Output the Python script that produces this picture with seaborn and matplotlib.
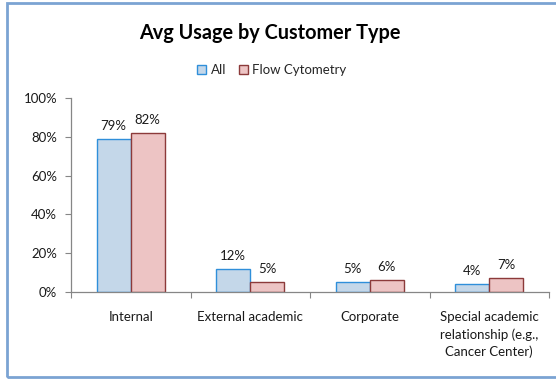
import matplotlib
matplotlib.use("Agg")
import matplotlib.pyplot as plt
import seaborn as sns
import pandas as pd
from matplotlib.patches import Rectangle, Patch
from matplotlib.ticker import FuncFormatter, FixedLocator

categories = ["Internal", "External academic", "Corporate",
              "Special academic\nrelationship (e.g.,\nCancer Center)"]
series_names = ["All", "Flow Cytometry"]
all_values = [79, 12, 5, 4]
flow_values = [82, 5, 6, 7]
y_ticks = [0, 20, 40, 60, 80, 100]

fills = ["#C4D7E9", "#EDC4C4"]
edges = ["#2F8FDA", "#8C3A3A"]

sns.set_theme(style="white")
plt.rcParams['font.family'] = ['Lato', 'DejaVu Sans']

df = pd.DataFrame({
    "cat": categories * 2,
    "series": [series_names[0]] * 4 + [series_names[1]] * 4,
    "val": all_values + flow_values,
})

fs = 9.5
fig = plt.figure(figsize=(5.56, 3.79), dpi=100)
ax = fig.add_axes([71/556, 1-292/379, (549-71)/556, (292-98)/379])

sns.barplot(data=df, x="cat", y="val", hue="series", palette=fills,
            width=0.57, ax=ax, legend=False, saturation=1)

for i, cont in enumerate(ax.containers):
    for p in cont.patches:
        p.set_edgecolor(edges[i])
        p.set_linewidth(1.0)
    ax.bar_label(cont, labels=[f"{v:.0f}%" for v in cont.datavalues],
                 padding=5, fontsize=fs, color="#1a1a1a")

ax.set_ylim(0, 100)
ax.set_xlim(-0.5, 3.5)
ax.yaxis.set_major_locator(FixedLocator(y_ticks))
ax.yaxis.set_major_formatter(FuncFormatter(lambda v, p: f"{v:.0f}%"))
ax.set_xlabel("")
ax.set_ylabel("")
ax.xaxis.set_major_locator(FixedLocator([0, 1, 2, 3]))
ax.set_xticklabels(categories, fontsize=fs, color="#1a1a1a", linespacing=1.45)
ax.xaxis.set_minor_locator(FixedLocator([-0.5, 0.5, 1.5, 2.5, 3.5]))
ax.tick_params(axis="x", which="major", length=0, pad=14)
ax.tick_params(axis="x", which="minor", length=4, color="#868686", width=0.8, direction="out", bottom=True)
ax.tick_params(axis="y", length=4, color="#868686", width=0.8, direction="out", left=True,
               labelsize=fs, labelcolor="#1a1a1a", pad=6)
for s in ["top", "right"]:
    ax.spines[s].set_visible(False)
for s in ["left", "bottom"]:
    ax.spines[s].set_color("#868686")
    ax.spines[s].set_linewidth(0.9)

fig.text(270/556, 1-33/379, "Avg Usage by Customer Type", ha="center", va="center",
         fontsize=14.3, fontweight="bold", color="#000000")

handles = [Patch(facecolor=fills[i], edgecolor=edges[i], linewidth=1.0) for i in range(2)]
fig.legend(handles, series_names, loc="center", bbox_to_anchor=(272/556, 1-70/379),
           ncol=2, frameon=False, fontsize=fs, handlelength=0.65, handleheight=0.65,
           handletextpad=0.35, columnspacing=1.0)

fig.patches.append(Rectangle((7/556, 2/379), 1.2, 1-5/379, transform=fig.transFigure,
                             fill=False, edgecolor="#7BA3D3", linewidth=2.0, clip_on=False))

fig.savefig("out.png", dpi=100)
